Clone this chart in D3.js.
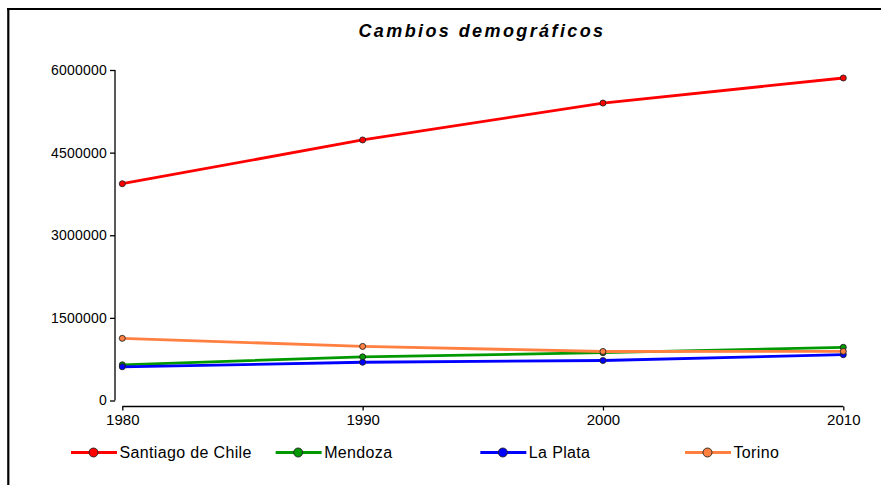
<!DOCTYPE html>
<html><head><meta charset="utf-8">
<script src="https://cdn.jsdelivr.net/npm/d3@7"></script>
<style>body{margin:0;background:#fff}svg{display:block}</style>
</head><body>
<script>
const years = [1980, 1990, 2000, 2010];
const seriesNames = ["Santiago de Chile", "Mendoza", "La Plata", "Torino"];
const santiago = [3935000, 4730000, 5400000, 5855000];
const mendoza = [648000, 792000, 868000, 966000];
const laPlata = [612000, 694000, 726000, 832000];
const torino = [1128000, 982000, 890000, 892000];
const seriesColors = ["#ff0000", "#009900", "#0000ff", "#ff8040"];
const yTicks = [0, 1500000, 3000000, 4500000, 6000000];
const title = "Cambios demográficos";

const series = [santiago, mendoza, laPlata, torino];
const W = 881, H = 485;
const svg = d3.select("body").append("svg").attr("width", W).attr("height", H);
svg.append("rect").attr("width", W).attr("height", H).attr("fill", "#fff");

// frame
svg.append("line").attr("x1", 7).attr("x2", W).attr("y1", 9).attr("y2", 9).attr("stroke", "#000").attr("stroke-width", 2.2);
svg.append("line").attr("x1", 8.3).attr("x2", 8.3).attr("y1", 8).attr("y2", H).attr("stroke", "#000").attr("stroke-width", 2.2);

const font = "Liberation Sans, Arial, sans-serif";
svg.append("text").attr("x", 482).attr("y", 37).attr("text-anchor", "middle")
  .attr("font-family", font).attr("font-size", 18).attr("font-weight", "bold").attr("font-style", "italic")
  .attr("letter-spacing", 2.4).text(title);

const x = d3.scalePoint().domain(years).range([122.3, 843.3]);
const y = d3.scaleLinear().domain([0, 6000000]).range([400.5, 70]);

const yAxis = svg.append("g").attr("transform", "translate(115,0)")
  .call(d3.axisLeft(y).tickValues(yTicks).tickSize(5).tickPadding(3).tickFormat(d3.format("d")));
const xAxis = svg.append("g").attr("transform", "translate(0,406.5)")
  .call(d3.axisBottom(x).tickSize(4).tickPadding(4).tickFormat(d3.format("d")));
[yAxis, xAxis].forEach(g => {
  g.select(".domain").attr("stroke", "#000").attr("stroke-width", 1.3);
  g.selectAll(".tick line").attr("stroke", "#000").attr("stroke-width", 1.3);
  g.selectAll("text").attr("font-family", font).attr("fill", "#000");
});
yAxis.selectAll("text").attr("font-size", 14).attr("letter-spacing", 0.2);
xAxis.selectAll("text").attr("font-size", 15);
yAxis.select(".domain").attr("d", `M0,${y(6000000)}V${y(0)}`);
xAxis.select(".domain").attr("d", `M${x(1980)},0H${x(2010)}`);

const line = d3.line().x((d, i) => x(years[i])).y(d => y(d));
series.forEach((s, k) => {
  svg.append("path").datum(s).attr("d", line).attr("fill", "none")
    .attr("stroke", seriesColors[k]).attr("stroke-width", 2.8);
  svg.selectAll(null).data(s).enter().append("circle")
    .attr("cx", (d, i) => x(years[i])).attr("cy", d => y(d)).attr("r", 3)
    .attr("fill", seriesColors[k]).attr("stroke", "#222").attr("stroke-width", 0.9);
});

// legend
const lx = d3.scaleLinear().domain([0, 3]).range([71, 685]);
seriesNames.forEach((name, k) => {
  const g = svg.append("g").attr("transform", `translate(${lx(k)},452.5)`);
  g.append("line").attr("x1", 0).attr("x2", 46).attr("stroke", seriesColors[k]).attr("stroke-width", 2.8);
  g.append("circle").attr("cx", 22.5).attr("r", 4.5).attr("fill", seriesColors[k]).attr("stroke", "#222").attr("stroke-width", 0.9);
  g.append("text").attr("x", 48.5).attr("y", 5.5).attr("font-family", font).attr("font-size", 16)
    .attr("letter-spacing", 0.35).text(name);
});
</script>
</body></html>
